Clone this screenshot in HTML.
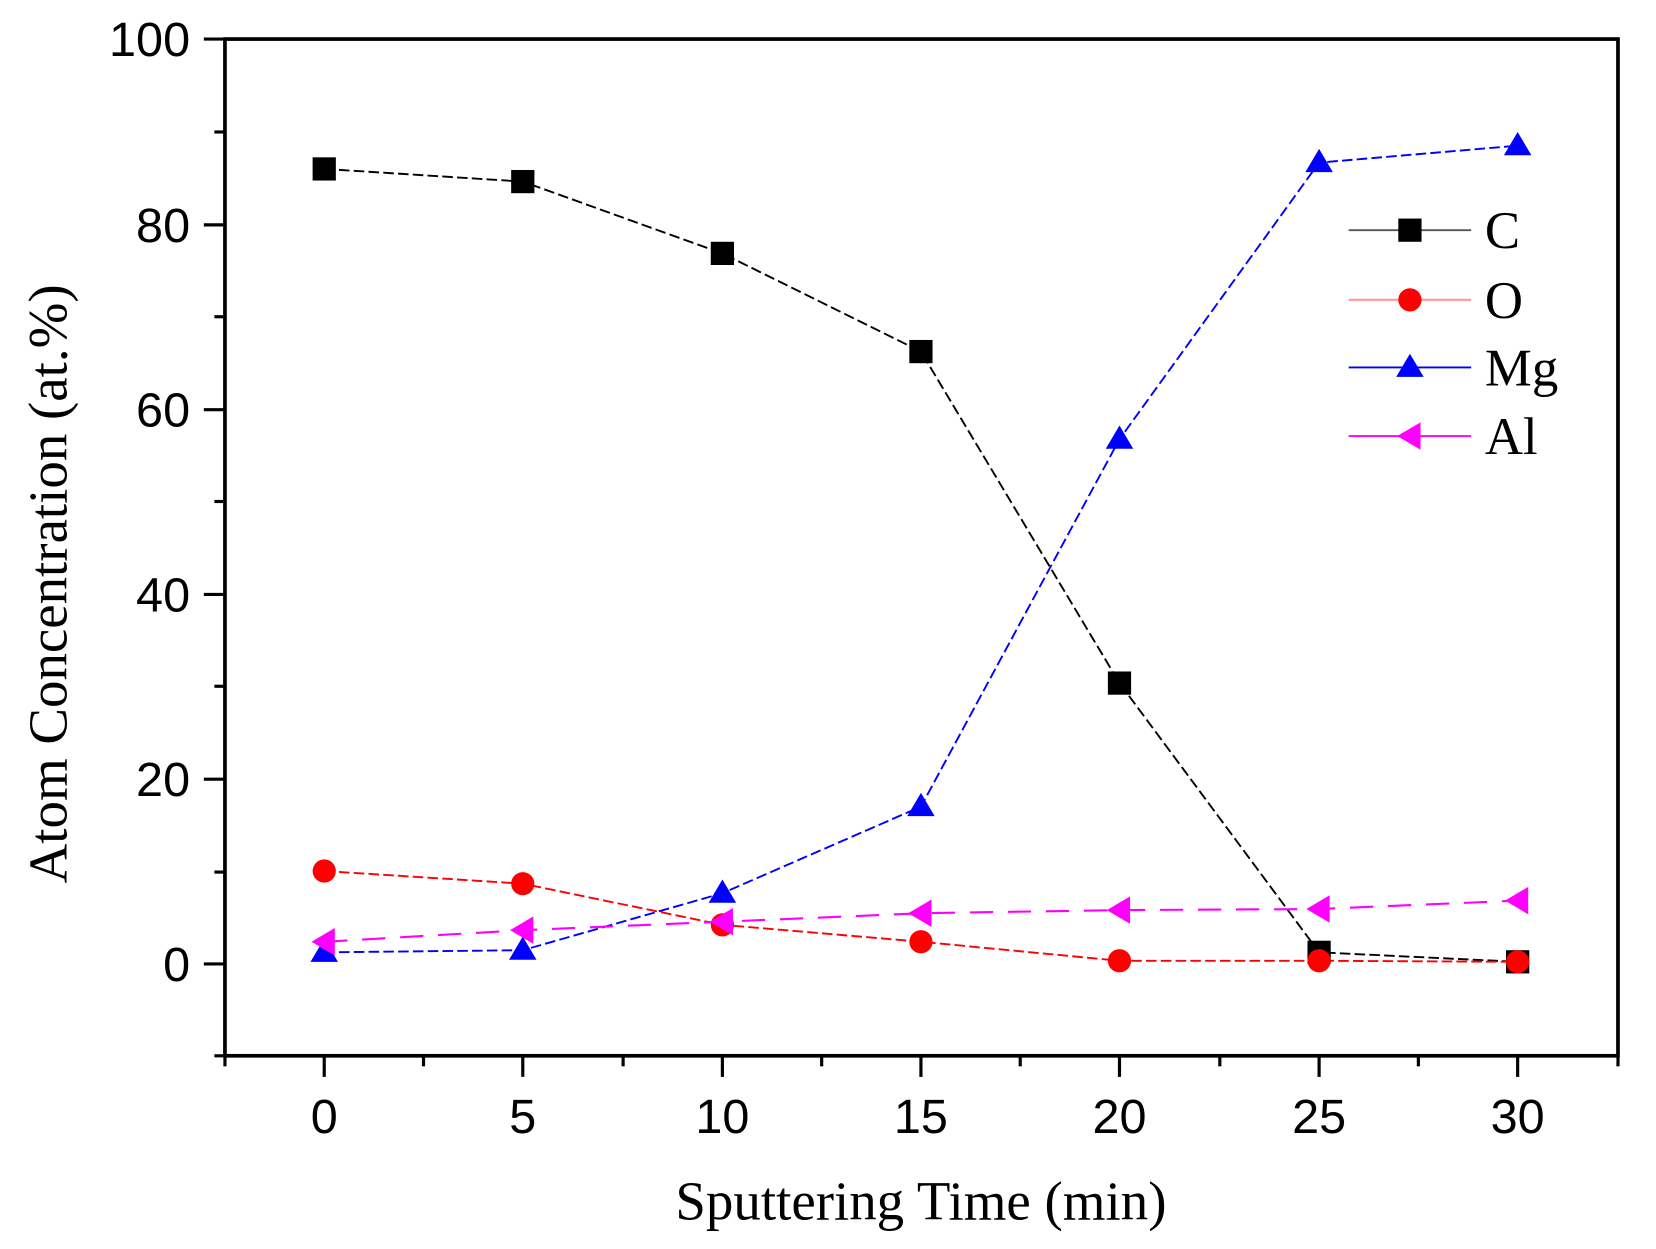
<!DOCTYPE html>
<html><head><meta charset="utf-8"><style>html,body{margin:0;padding:0;background:#fff}svg{display:block}</style></head><body>
<svg width="1656" height="1249" viewBox="0 0 1568 1183" preserveAspectRatio="none" xmlns="http://www.w3.org/2000/svg">
<rect width="1568" height="1183" fill="#fff"/>
<rect x="213" y="37" width="1319" height="963" fill="none" stroke="#000" stroke-width="3.5"/>
<g stroke="#000" stroke-width="3">
<line x1="193" y1="37" x2="213" y2="37"/><line x1="193" y1="213" x2="213" y2="213"/><line x1="193" y1="388" x2="213" y2="388"/><line x1="193" y1="563" x2="213" y2="563"/><line x1="193" y1="738" x2="213" y2="738"/><line x1="193" y1="913" x2="213" y2="913"/>
<line x1="203" y1="125" x2="213" y2="125"/><line x1="203" y1="300" x2="213" y2="300"/><line x1="203" y1="475" x2="213" y2="475"/><line x1="203" y1="650" x2="213" y2="650"/><line x1="203" y1="826" x2="213" y2="826"/><line x1="203" y1="1000" x2="213" y2="1000"/>
<line x1="307" y1="1000" x2="307" y2="1020"/><line x1="495" y1="1000" x2="495" y2="1020"/><line x1="684" y1="1000" x2="684" y2="1020"/><line x1="872" y1="1000" x2="872" y2="1020"/><line x1="1060" y1="1000" x2="1060" y2="1020"/><line x1="1249" y1="1000" x2="1249" y2="1020"/><line x1="1437" y1="1000" x2="1437" y2="1020"/>
<line x1="213" y1="1000" x2="213" y2="1010"/><line x1="401" y1="1000" x2="401" y2="1010"/><line x1="590" y1="1000" x2="590" y2="1010"/><line x1="778" y1="1000" x2="778" y2="1010"/><line x1="966" y1="1000" x2="966" y2="1010"/><line x1="1155" y1="1000" x2="1155" y2="1010"/><line x1="1343" y1="1000" x2="1343" y2="1010"/><line x1="1532" y1="1000" x2="1532" y2="1010"/>
</g>
<g font-family="Liberation Sans, sans-serif" font-size="46" fill="#000" text-anchor="end">
<text x="180" y="53">100</text><text x="180" y="229">80</text><text x="180" y="404">60</text><text x="180" y="579">40</text><text x="180" y="754">20</text><text x="180" y="929">0</text>
</g>
<g font-family="Liberation Sans, sans-serif" font-size="46" fill="#000" text-anchor="middle">
<text x="307" y="1073">0</text><text x="495" y="1073">5</text><text x="684" y="1073">10</text><text x="872" y="1073">15</text><text x="1060" y="1073">20</text><text x="1249" y="1073">25</text><text x="1437" y="1073">30</text>
</g>
<text x="872" y="1155" font-family="Liberation Serif, serif" font-size="52" text-anchor="middle">Sputtering Time (min)</text>
<text transform="translate(63,553) rotate(-90)" font-family="Liberation Serif, serif" font-size="52" text-anchor="middle">Atom Concentration (at.%)</text>
<polyline fill="none" stroke="#000" stroke-width="1.8" stroke-dasharray="10,4" points="307,160 495,172 684,240 872,333 1060,647 1249,902 1437,911"/>
<polyline fill="none" stroke="#f00" stroke-width="1.8" stroke-dasharray="10,4" points="307,825 495,837 684,876 872,892 1060,910 1249,910 1437,911"/>
<polyline fill="none" stroke="#00f" stroke-width="1.8" stroke-dasharray="10,4" points="307,902 495,900 684,846 872,764 1060,416 1249,154 1437,138"/>
<polyline fill="none" stroke="#f0f" stroke-width="2" stroke-dasharray="22,14" points="307,892 495,881 684,873 872,865 1060,862 1249,861 1437,853"/>
<g fill="#000">
<rect x="296" y="149" width="22" height="22"/><rect x="484" y="161" width="22" height="22"/><rect x="673" y="229" width="22" height="22"/><rect x="861" y="322" width="22" height="22"/><rect x="1049" y="636" width="22" height="22"/><rect x="1238" y="891" width="22" height="22"/><rect x="1426" y="900" width="22" height="22"/>
</g>
<g fill="#f00">
<circle cx="307" cy="825" r="11"/><circle cx="495" cy="837" r="11"/><circle cx="684" cy="876" r="11"/><circle cx="872" cy="892" r="11"/><circle cx="1060" cy="910" r="11"/><circle cx="1249" cy="910" r="11"/><circle cx="1437" cy="911" r="11"/>
</g>
<g fill="#00f">
<polygon points="307,889 294,911 320,911"/><polygon points="495,887 482,909 508,909"/><polygon points="684,833 671,855 697,855"/><polygon points="872,751 859,773 885,773"/><polygon points="1060,403 1047,425 1073,425"/><polygon points="1249,141 1236,163 1262,163"/><polygon points="1437,125 1424,147 1450,147"/>
</g>
<g fill="#f0f">
<polygon points="295,892 317,879 317,905"/><polygon points="483,881 505,868 505,894"/><polygon points="672,873 694,860 694,886"/><polygon points="860,865 882,852 882,878"/><polygon points="1048,862 1070,849 1070,875"/><polygon points="1237,861 1259,848 1259,874"/><polygon points="1425,853 1447,840 1447,866"/>
</g>
<line x1="1277" y1="218" x2="1393" y2="218" stroke="#555" stroke-width="1.8"/><rect x="1324" y="207" width="22" height="22" fill="#000"/>
<line x1="1277" y1="284" x2="1393" y2="284" stroke="#f99" stroke-width="2"/><circle cx="1335" cy="284" r="11" fill="#f00"/>
<line x1="1277" y1="348" x2="1393" y2="348" stroke="#00f" stroke-width="1.8"/><polygon points="1335,335 1322,357 1348,357" fill="#00f"/>
<line x1="1277" y1="413" x2="1393" y2="413" stroke="#f0f" stroke-width="1.8"/><polygon points="1323,413 1345,400 1345,426" fill="#f0f"/>
<g font-family="Liberation Serif, serif" font-size="50" fill="#000">
<text x="1406" y="235">C</text><text x="1406" y="301">O</text><text x="1406" y="365">Mg</text><text x="1406" y="430">Al</text>
</g>
</svg>
</body></html>
